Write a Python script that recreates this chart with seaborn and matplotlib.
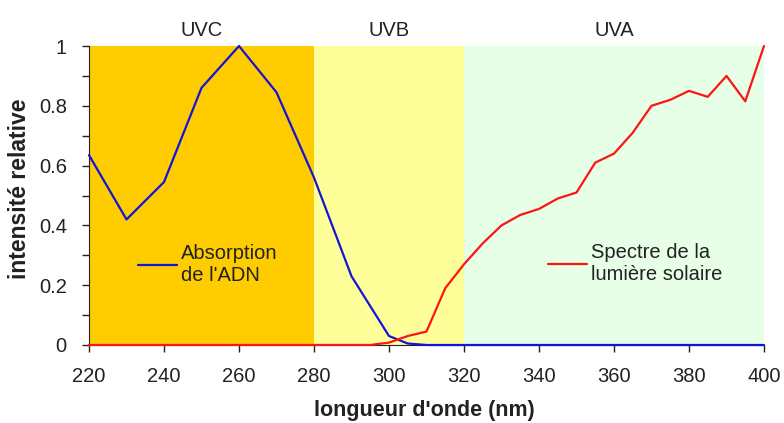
import numpy as np
import pandas as pd
import matplotlib
matplotlib.use("Agg")
import matplotlib.pyplot as plt
import seaborn as sns

# DNA absorption (blue)
adn_nm = [220, 230, 240, 250, 260, 270, 280, 290, 300, 305, 310, 320, 340, 360, 380, 400]
adn_val = [0.635, 0.42, 0.545, 0.86, 1.0, 0.845, 0.56, 0.23, 0.03, 0.005, 0, 0, 0, 0, 0, 0]

# Solar spectrum (red)
sol_nm = [220, 240, 260, 280, 295, 300, 305, 310, 315, 320, 325, 330, 335, 340, 345,
          350, 355, 360, 365, 370, 375, 380, 385, 390, 395, 400]
sol_val = [0, 0, 0, 0, 0, 0.008, 0.03, 0.045, 0.19, 0.27, 0.34, 0.40, 0.435, 0.455, 0.49,
           0.51, 0.61, 0.64, 0.71, 0.80, 0.82, 0.85, 0.83, 0.90, 0.815, 1.0]

bands = ["UVC", "UVB", "UVA"]
band_edges = [(220, 280), (280, 320), (320, 400)]
band_colors = ["#FFCC00", "#FFFF99", "#E6FFE6"]

sns.set_style("ticks")
plt.rcParams['font.family'] = ['Liberation Sans', 'DejaVu Sans']

fig = plt.figure(figsize=(7.84, 4.23), dpi=100)
ax = fig.add_axes([89 / 784, 1 - 345 / 423, 675 / 784, 299 / 423])

for name, (a, b), c in zip(bands, band_edges, band_colors):
    ax.axvspan(a, b, color=c, lw=0, zorder=0)
    ax.text((a + b) / 2, 1.0535, name, ha='center', va='center', fontsize=14.5,
            color='#222222', transform=ax.get_xaxis_transform())

df_adn = pd.DataFrame({'nm': adn_nm, 'val': adn_val})
df_sol = pd.DataFrame({'nm': sol_nm, 'val': sol_val})
sns.lineplot(data=df_adn, x='nm', y='val', color='#1414d8', lw=1.6, ax=ax, zorder=3, clip_on=False)
sns.lineplot(data=df_sol, x='nm', y='val', color='#ff1414', lw=1.6, ax=ax, zorder=4, clip_on=False)

ax.set_xlim(220, 400)
ax.set_ylim(0, 1)
ax.set_xticks(np.arange(220, 401, 20))
ax.set_yticks([0, 0.2, 0.4, 0.6, 0.8, 1])
ax.set_yticklabels(['0', '0.2', '0.4', '0.6', '0.8', '1'])
ax.set_yticks(np.arange(0, 1.01, 0.1), minor=True)
ax.tick_params(axis='both', labelsize=14.5, colors='#222222', length=5, width=1)
ax.tick_params(axis='x', pad=10.5)
ax.tick_params(axis='y', pad=11)
ax.tick_params(axis='y', which='minor', length=5, width=1, colors='#222222')
ax.set_xlabel('')
ax.set_ylabel('')
sns.despine(ax=ax, top=True, right=True)
ax.spines['left'].set_color('#222222')
ax.spines['bottom'].set_color('#222222')

lines = ax.get_lines()
leg1 = ax.legend(handles=[lines[0]], labels=["Absorption\nde l'ADN"], loc='center left',
                 bbox_to_anchor=(0.0726, 0.27), frameon=False, fontsize=14.5,
                 handlelength=1.95, handletextpad=0.2, borderpad=0, borderaxespad=0)
for t in leg1.get_texts():
    t.set_color('#222222')
ax.add_artist(leg1)
leg2 = ax.legend(handles=[lines[1]], labels=["Spectre de la\nlumière solaire"], loc='center left',
                 bbox_to_anchor=(0.680, 0.272), frameon=False, fontsize=14.5,
                 handlelength=1.95, handletextpad=0.2, borderpad=0, borderaxespad=0)
for t in leg2.get_texts():
    t.set_color('#222222')

fig.text(20 / 784, 1 - 189 / 423, 'intensité relative', rotation=90, ha='center', va='center',
         fontsize=16.5, fontweight='bold', color='#222222')
fig.text(424 / 784, 1 - 416 / 423, "longueur d'onde (nm)", ha='center', va='baseline',
         fontsize=15.5, fontweight='bold', color='#222222')

fig.savefig('out.png', dpi=100)
